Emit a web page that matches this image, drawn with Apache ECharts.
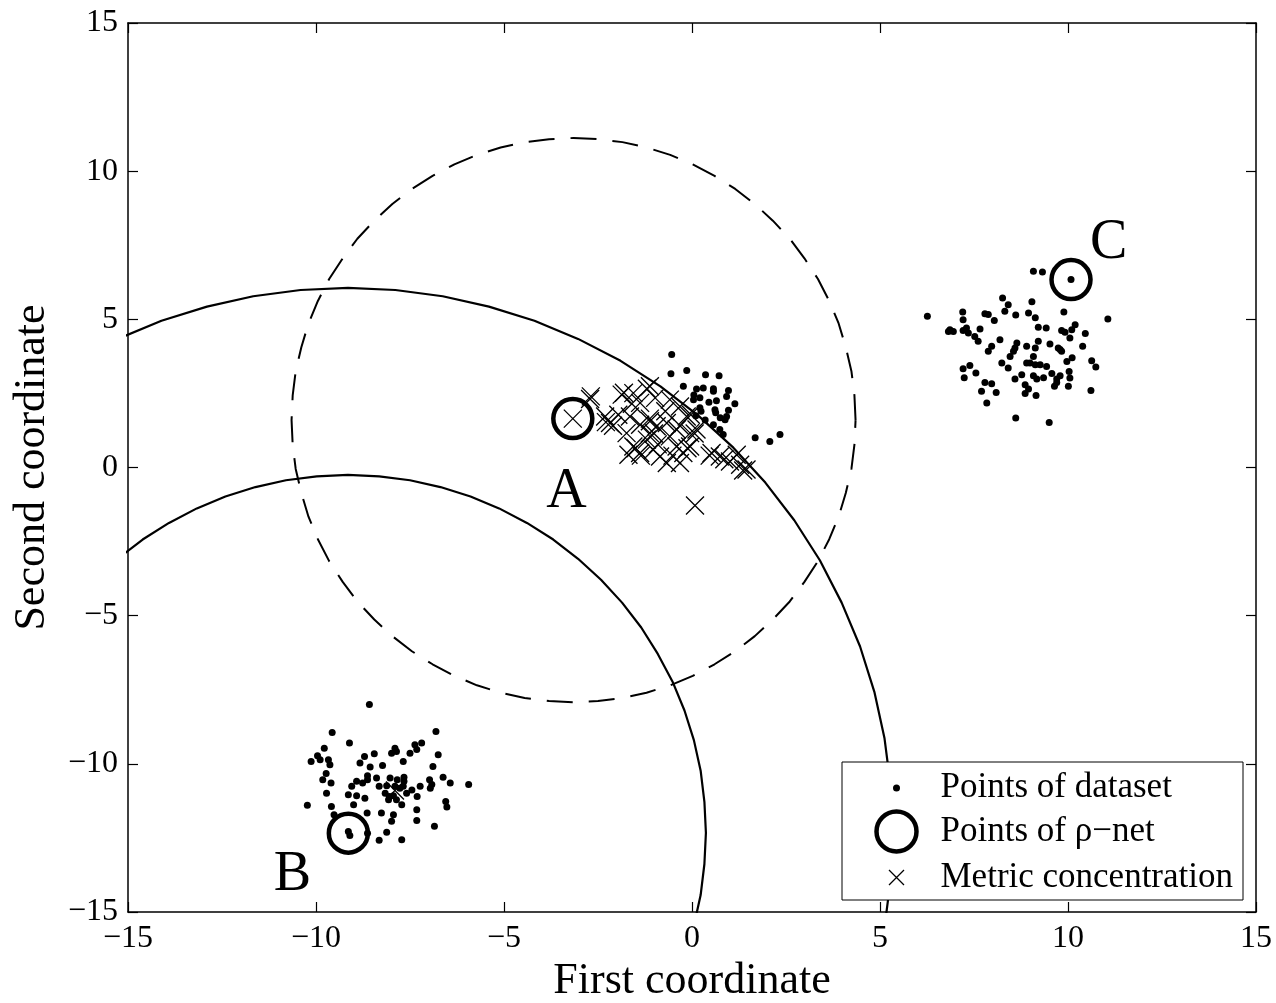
<!DOCTYPE html>
<html>
<head>
<meta charset="utf-8">
<script src="https://cdn.jsdelivr.net/npm/echarts@6/dist/echarts.min.js"></script>
<style>
  html, body { margin: 0; padding: 0; background: #fff; }
  #chart { width: 1276px; height: 1003px; }
</style>
</head>
<body>
<div id="chart"></div>
<script>
// axis ticks
var xTicks = [-15, -10, -5, 0, 5, 10, 15];
var yTicks = [-15, -10, -5, 0, 5, 10, 15];

// points of dataset, three clusters
var clusterA = [
    [-0.54, 3.81], [-0.56, 3.16], [-0.14, 3.27], [0.36, 3.13], [0.72, 3.10], [-0.23, 2.74],
    [0.12, 2.65], [0.30, 2.68], [0.57, 2.66], [0.57, 2.57], [0.97, 2.60], [0.04, 2.29],
    [0.21, 2.35], [0.92, 2.40], [1.14, 2.15], [0.21, 2.02], [0.24, 1.90], [0.61, 1.95],
    [0.63, 1.85], [0.97, 1.93], [0.75, 1.68], [0.88, 1.61], [0.92, 1.72], [0.57, 1.44],
    [0.74, 1.28], [0.83, 1.11], [1.68, 1.00], [2.07, 0.88], [2.34, 1.11], [0.10, 1.75],
    [0.35, 1.60], [0.45, 2.20], [0.05, 2.45], [0.65, 2.25]
];
var clusterB = [
    [-8.58, -8.00], [-9.57, -8.94], [-6.81, -8.91], [-9.11, -9.30], [-9.78, -9.47], [-7.37, -9.36],
    [-7.19, -9.30], [-7.32, -9.52], [-7.90, -9.47], [-7.99, -9.64], [-7.86, -9.58], [-8.45, -9.66],
    [-8.71, -9.75], [-9.96, -9.73], [-10.13, -9.92], [-9.89, -9.86], [-9.67, -9.86], [-9.63, -10.03],
    [-7.50, -9.64], [-6.75, -9.69], [-8.83, -9.97], [-8.56, -10.11], [-8.23, -10.06], [-7.68, -9.92],
    [-6.89, -10.09], [-6.62, -10.45], [-6.43, -10.65], [-5.94, -10.70], [-9.73, -10.33], [-9.82, -10.54],
    [-9.60, -10.65], [-8.63, -10.40], [-8.39, -10.48], [-8.92, -10.59], [-8.76, -10.65], [-8.63, -10.54],
    [-9.05, -10.76], [-8.03, -10.48], [-7.84, -10.54], [-7.66, -10.45], [-7.66, -10.59], [-8.32, -10.76],
    [-8.12, -10.74], [-7.90, -10.76], [-7.77, -10.82], [-7.68, -10.76], [-6.98, -10.54], [-6.92, -10.70],
    [-6.96, -10.82], [-7.23, -10.76], [-7.45, -10.88], [-9.72, -10.99], [-9.14, -11.04], [-8.92, -11.08],
    [-8.70, -11.16], [-8.16, -10.99], [-8.05, -11.10], [-7.94, -11.08], [-8.07, -11.21], [-7.86, -11.21],
    [-7.59, -10.99], [-7.31, -11.10], [-6.55, -11.27], [-6.52, -11.46], [-10.23, -11.40], [-9.59, -11.44],
    [-9.00, -11.38], [-8.64, -11.66], [-8.26, -11.66], [-7.94, -11.72], [-7.72, -11.38], [-7.32, -11.55],
    [-7.99, -11.94], [-9.52, -11.72], [-7.32, -11.91], [-6.85, -12.11], [-8.12, -12.31], [-8.32, -12.58],
    [-7.72, -12.56], [-9.14, -12.28], [-9.10, -12.42], [-8.63, -12.34]
];
var clusterC = [
    [6.26, 5.10], [6.82, 4.59], [6.86, 4.65], [6.95, 4.59], [7.20, 5.25], [7.21, 4.99], [7.21, 4.62],
    [7.30, 4.71], [7.35, 4.54], [7.52, 4.42], [7.61, 4.26], [7.66, 4.67], [7.79, 5.19], [7.88, 5.16],
    [8.04, 4.96], [8.26, 5.72], [8.41, 5.49], [8.32, 5.27], [8.61, 5.15], [8.19, 4.31], [7.97, 4.09],
    [7.88, 3.92], [9.04, 5.59], [8.95, 5.21], [9.13, 5.05], [9.21, 4.73], [9.42, 4.71], [9.89, 5.25],
    [10.19, 4.82], [10.10, 4.65], [9.83, 4.62], [9.92, 4.56], [10.05, 4.37], [10.46, 4.52], [10.39, 4.09],
    [11.06, 5.01], [9.08, 6.62], [9.32, 6.60], [10.08, 6.34], [8.64, 4.20], [8.59, 4.03], [8.55, 3.92],
    [8.90, 4.09], [9.13, 4.03], [9.21, 4.26], [9.52, 4.17], [9.74, 4.03], [9.83, 3.92], [8.46, 3.75],
    [8.24, 3.53], [8.41, 3.36], [9.08, 3.75], [8.99, 3.53], [8.90, 3.53], [9.13, 3.47], [9.26, 3.47],
    [9.43, 3.41], [9.79, 3.98], [9.97, 3.58], [10.11, 3.70], [10.63, 3.60], [10.74, 3.39], [7.21, 3.33],
    [7.39, 3.44], [7.55, 3.19], [7.24, 3.03], [8.77, 3.13], [8.59, 2.99], [9.08, 3.10], [9.17, 2.99],
    [9.35, 3.03], [9.57, 3.17], [9.70, 2.99], [9.79, 3.10], [10.03, 3.24], [10.05, 3.02], [7.79, 2.87],
    [7.97, 2.83], [7.70, 2.57], [8.09, 2.53], [7.84, 2.18], [8.86, 2.79], [8.95, 2.65], [8.86, 2.50],
    [9.15, 2.43], [9.64, 2.74], [9.70, 2.87], [10.01, 2.74], [10.61, 2.60], [8.61, 1.67], [9.50, 1.52]
];

// points of the rho-net
var rhoNet = [[-3.17, 1.65], [-9.14, -12.34], [10.08, 6.34]];

// metric concentration crosses
var metricPts = [
    [-3.17, 1.65], [-2.71, 2.31], [-2.69, 2.40], [-2.31, 1.72], [-2.29, 1.53], [-2.18, 1.50],
    [-2.10, 1.41], [-1.96, 1.78], [-1.87, 2.46], [-1.81, 2.52], [-1.74, 1.16], [-1.69, 0.43],
    [-1.65, 1.72], [-1.60, 2.15], [-1.56, 2.51], [-1.56, 0.71], [-1.50, 0.65], [-1.38, 2.18],
    [-1.38, 1.44], [-1.38, 0.49], [-1.36, 0.40], [-1.20, 2.66], [-1.20, 0.94], [-1.12, 2.74],
    [-1.12, 1.65], [-1.12, 1.56], [-1.12, 1.16], [-1.03, 0.60], [-1.01, 1.15], [-0.98, 2.35],
    [-0.94, 1.39], [-0.91, 0.78], [-0.85, 0.37], [-0.71, 1.90], [-0.67, 1.50], [-0.67, 0.15],
    [-0.59, 2.29], [-0.59, 1.05], [-0.52, 0.40], [-0.41, 1.28], [-0.41, 0.71], [-0.32, 2.06],
    [-0.32, 1.41], [-0.32, 0.15], [-0.23, 0.49], [-0.14, 1.72], [-0.12, 0.65], [-0.05, 1.16],
    [-0.05, 0.71], [-0.03, 1.78], [0.07, 1.15], [0.12, 1.28], [0.47, 0.40], [0.52, 0.49],
    [0.74, 0.37], [0.86, 0.28], [1.01, 0.20], [1.19, 0.43], [1.28, 0.09], [1.36, -0.10],
    [1.45, -0.07], [0.08, -1.28], [-7.90, -10.90]
];

// arcs
var outerArc = [
    [-15.27, 4.34], [-14.11, 4.95], [-12.90, 5.43], [-11.67, 5.78], [-10.41, 5.99], [-9.15, 6.06],
    [-7.89, 5.99], [-6.63, 5.78], [-5.40, 5.43], [-4.19, 4.95], [-3.03, 4.34], [-1.90, 3.60],
    [-0.84, 2.74], [0.16, 1.76], [1.10, 0.67], [1.95, -0.51], [2.72, -1.78], [3.40, -3.13],
    [3.98, -4.56], [4.47, -6.04], [4.85, -7.57], [5.12, -9.14], [5.28, -10.73], [5.34, -12.33],
    [5.28, -13.93], [5.12, -15.52]
];
var innerArc = [
    [-15.27, -3.08], [-14.61, -2.43], [-13.91, -1.87], [-13.17, -1.38], [-12.41, -0.98], [-11.61, -0.66],
    [-10.80, -0.43], [-9.98, -0.30], [-9.15, -0.25], [-8.32, -0.30], [-7.50, -0.43], [-6.69, -0.66],
    [-5.89, -0.98], [-5.13, -1.38], [-4.39, -1.87], [-3.69, -2.43], [-3.03, -3.08], [-2.42, -3.79],
    [-1.86, -4.56], [-1.35, -5.40], [-0.91, -6.29], [-0.52, -7.22], [-0.20, -8.20], [0.05, -9.20],
    [0.23, -10.23], [0.33, -11.28], [0.37, -12.33], [0.33, -13.38], [0.23, -14.43], [0.05, -15.46]
];
var dashedCircle = [
    [4.35, 1.60], [4.32, 2.43], [4.24, 3.25], [4.09, 4.06], [3.90, 4.86], [3.65, 5.62],
    [3.35, 6.36], [2.99, 7.06], [2.60, 7.72], [2.15, 8.33], [1.67, 8.89], [1.15, 9.40],
    [0.60, 9.84], [0.02, 10.23], [-0.58, 10.55], [-1.21, 10.80], [-1.85, 10.98], [-2.50, 11.08],
    [-3.15, 11.12], [-3.80, 11.08], [-4.45, 10.98], [-5.09, 10.80], [-5.72, 10.55], [-6.32, 10.23],
    [-6.90, 9.84], [-7.45, 9.40], [-7.97, 8.89], [-8.45, 8.33], [-8.90, 7.72], [-9.29, 7.06],
    [-9.65, 6.36], [-9.95, 5.62], [-10.20, 4.86], [-10.39, 4.06], [-10.54, 3.25], [-10.62, 2.43],
    [-10.65, 1.60], [-10.62, 0.77], [-10.54, -0.05], [-10.39, -0.86], [-10.20, -1.66], [-9.95, -2.42],
    [-9.65, -3.16], [-9.29, -3.86], [-8.90, -4.52], [-8.45, -5.13], [-7.97, -5.69], [-7.45, -6.20],
    [-6.90, -6.64], [-6.32, -7.03], [-5.72, -7.35], [-5.09, -7.60], [-4.45, -7.78], [-3.80, -7.88],
    [-3.15, -7.92], [-2.50, -7.88], [-1.85, -7.78], [-1.21, -7.60], [-0.58, -7.35], [0.02, -7.03],
    [0.60, -6.64], [1.15, -6.20], [1.67, -5.69], [2.15, -5.13], [2.60, -4.52], [2.99, -3.86],
    [3.35, -3.16], [3.65, -2.42], [3.90, -1.66], [4.09, -0.86], [4.24, -0.05], [4.32, 0.77],
    [4.35, 1.60]
];

// letters next to the rho-net points
var letterPts = [[-3.34, -0.85, 'A'], [-10.63, -13.76, 'B'], [11.08, 7.57, 'C']];

var serif = 'Liberation Serif, Times New Roman, serif';
var crossPath = 'path://M0,0L10,10M10,0L0,10';

function minusFmt(v) {
    return v < 0 ? '\u2212' + Math.abs(v) : String(v);
}

var myChart = echarts.init(document.getElementById('chart'));

var axisLine = { show: true, onZero: false, lineStyle: { color: '#000', width: 1.5 } };
var axisTick = { show: true, inside: true, length: 10, lineStyle: { color: '#000', width: 1.2 } };

var option = {
    animation: false,
    backgroundColor: '#fff',
    grid: { left: 128, right: 20, top: 23, bottom: 91, containLabel: false, outerBoundsMode: 'none' },
    xAxis: [
        {
            type: 'value', min: xTicks[0], max: xTicks[xTicks.length - 1], interval: 5,
            name: 'First coordinate', nameLocation: 'middle', nameGap: 36,
            nameTextStyle: { fontFamily: serif, fontSize: 44, color: '#000' },
            axisLine: axisLine, axisTick: axisTick, splitLine: { show: false },
            axisLabel: {
                margin: 11, fontFamily: serif, fontSize: 32, color: '#000',
                showMinLabel: true, showMaxLabel: true, formatter: minusFmt
            }
        },
        {
            type: 'value', position: 'top', min: xTicks[0], max: xTicks[xTicks.length - 1], interval: 5,
            axisLine: axisLine, axisTick: axisTick, splitLine: { show: false },
            axisLabel: { show: false }
        }
    ],
    yAxis: [
        {
            type: 'value', min: yTicks[0], max: yTicks[yTicks.length - 1], interval: 5,
            name: 'Second coordinate', nameLocation: 'middle', nameGap: 74, nameRotate: 90,
            nameTextStyle: { fontFamily: serif, fontSize: 44, color: '#000' },
            axisLine: axisLine, axisTick: axisTick, splitLine: { show: false },
            axisLabel: {
                margin: 10, fontFamily: serif, fontSize: 32, color: '#000',
                showMinLabel: true, showMaxLabel: true, formatter: minusFmt
            }
        },
        {
            type: 'value', position: 'right', min: yTicks[0], max: yTicks[yTicks.length - 1], interval: 5,
            axisLine: axisLine, axisTick: axisTick, splitLine: { show: false },
            axisLabel: { show: false }
        }
    ],
    legend: {
        orient: 'vertical',
        left: 842, top: 762,
        padding: [6, 10, 0, 32],
        itemWidth: 78, itemHeight: 40, itemGap: 1,
        backgroundColor: '#fff', borderColor: '#000', borderWidth: 1, borderRadius: 0,
        textStyle: { fontFamily: serif, fontSize: 35, lineHeight: 40, color: '#000' },
        selectedMode: false,
        data: [
            {
                name: 'Points of dataset',
                icon: 'path://M0,0M40,40M16.5,20A3.5,3.5,0,1,1,23.5,20A3.5,3.5,0,1,1,16.5,20Z',
                itemStyle: { color: '#000', borderWidth: 0, opacity: 1 }
            },
            {
                name: 'Points of \u03c1\u2212net',
                icon: 'circle',
                itemStyle: { color: 'none', borderColor: '#000', borderWidth: 4.5, opacity: 1 }
            },
            {
                name: 'Metric concentration',
                icon: 'path://M0,0M40,40M12.5,12.5L27.5,27.5M27.5,12.5L12.5,27.5',
                itemStyle: { color: 'none', borderColor: '#000', borderWidth: 1.3, opacity: 1 }
            }
        ]
    },
    series: [
        {
            name: 'outer', type: 'line', data: outerArc, smooth: false, showSymbol: false,
            lineStyle: { color: '#000', width: 2.2 }, silent: true, z: 1
        },
        {
            name: 'inner', type: 'line', data: innerArc, smooth: false, showSymbol: false,
            lineStyle: { color: '#000', width: 2.2 }, silent: true, z: 1
        },
        {
            name: 'dashed', type: 'line', data: dashedCircle, smooth: false, showSymbol: false,
            lineStyle: { color: '#000', width: 2, type: [26, 16] }, silent: true, z: 1
        },
        {
            name: 'Points of dataset', type: 'scatter',
            data: clusterA.concat(clusterB, clusterC),
            symbol: 'circle', symbolSize: 7,
            itemStyle: { color: '#000', opacity: 1 }, silent: true, z: 2
        },
        {
            name: 'Metric concentration', type: 'scatter', data: metricPts,
            symbol: crossPath, symbolSize: 18,
            itemStyle: { color: 'none', borderColor: '#000', borderWidth: 1.3, opacity: 1 }, silent: true, z: 3
        },
        {
            name: 'Points of \u03c1\u2212net', type: 'scatter', data: rhoNet,
            symbol: 'circle', symbolSize: 39,
            itemStyle: { color: 'none', borderColor: '#000', borderWidth: 4.5, opacity: 1 }, silent: true, z: 4
        },
        {
            name: 'letters', type: 'scatter', data: letterPts,
            symbolSize: 0, silent: true, z: 5,
            itemStyle: { opacity: 1 },
            label: {
                show: true, position: 'inside', color: '#000',
                fontFamily: serif, fontSize: 56,
                formatter: function (p) { return p.value[2]; }
            }
        }
    ]
};

myChart.setOption(option);
</script>
</body>
</html>
